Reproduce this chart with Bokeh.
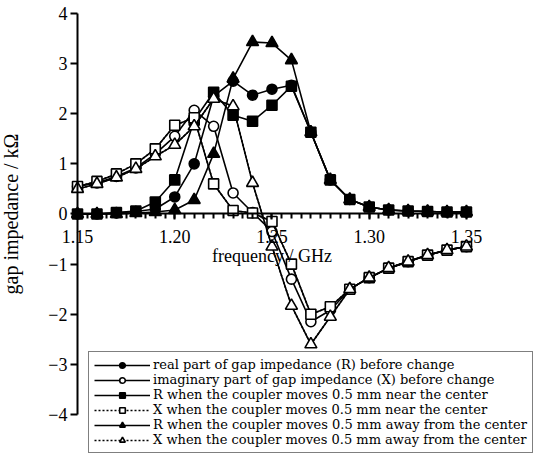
from bokeh.plotting import figure
from bokeh.models import (ColumnDataSource, Legend, LegendItem, LinearAxis,
                          SingleIntervalTicker, FixedTicker, Range1d, PrintfTickFormatter)
from bokeh.embed import file_html
from bokeh.resources import INLINE

# ---------------- data ----------------
freq = [1.15, 1.16, 1.17, 1.18, 1.19, 1.20, 1.21, 1.22, 1.23, 1.24, 1.25,
        1.26, 1.27, 1.28, 1.29, 1.30, 1.31, 1.32, 1.33, 1.34, 1.35]

r_before = [0.00, 0.00, 0.02, 0.05, 0.10, 0.34, 1.00, 2.35, 2.65, 2.37, 2.49,
            2.57, 1.63, 0.68, 0.29, 0.14, 0.08, 0.06, 0.05, 0.04, 0.04]
x_before = [0.55, 0.62, 0.75, 0.92, 1.20, 1.55, 2.07, 1.75, 0.42, 0.03, -0.35,
            -1.30, -2.15, -1.92, -1.50, -1.27, -1.08, -0.95, -0.82, -0.72, -0.65]
r_near = [0.00, 0.00, 0.03, 0.06, 0.24, 0.68, 1.87, 2.43, 1.97, 1.85, 2.17,
          2.55, 1.63, 0.68, 0.29, 0.14, 0.08, 0.06, 0.05, 0.04, 0.04]
x_near = [0.55, 0.65, 0.80, 1.00, 1.30, 1.77, 1.92, 0.60, 0.07, 0.02, -0.15,
          -1.00, -2.00, -1.85, -1.50, -1.27, -1.08, -0.95, -0.82, -0.72, -0.65]
r_away = [0.00, 0.00, 0.00, 0.02, 0.04, 0.08, 0.28, 1.20, 2.70, 3.43, 3.41,
          3.07, 1.63, 0.68, 0.29, 0.14, 0.08, 0.06, 0.05, 0.04, 0.04]
x_away = [0.50, 0.60, 0.73, 0.90, 1.15, 1.38, 1.75, 2.30, 2.15, 0.62, -0.65,
          -1.83, -2.60, -2.05, -1.50, -1.27, -1.08, -0.95, -0.82, -0.72, -0.65]

x_ticks_major = 0.05
y_ticks = [-4, -3, -2, -1, 0, 1, 2, 3, 4]

labels = [
    "real part of gap impedance (R) before change",
    "imaginary part of gap impedance (X) before change",
    "R when the coupler moves 0.5 mm near the center",
    "X when the coupler moves 0.5 mm near the center",
    "R when the coupler moves 0.5 mm away from the center",
    "X when the coupler moves 0.5 mm away from the center",
]

# ---------------- figure ----------------
W, H = 549, 456
SERIF = "Liberation Serif"

p = figure(width=W, height=H, output_backend="svg", toolbar_location=None,
           x_range=Range1d(1.1104, 1.3927), y_range=Range1d(-4.838, 4.2594),
           x_axis_location=None, y_axis_location=None,
           min_border_left=0, min_border_right=0, min_border_top=0, min_border_bottom=0)
p.outline_line_color = None
p.grid.visible = False
p.background_fill_color = "white"

xaxis = LinearAxis(fixed_location=0, bounds=(1.15, 1.35),
                   ticker=SingleIntervalTicker(interval=x_ticks_major, num_minor_ticks=10),
                   formatter=PrintfTickFormatter(format="%.2f"),
                   axis_label="frequency / GHz")
yaxis = LinearAxis(fixed_location=1.15, bounds=(-4, 4),
                   ticker=FixedTicker(ticks=y_ticks, minor_ticks=[]),
                   axis_label="gap impedance / kΩ")
for ax in (xaxis, yaxis):
    ax.axis_line_color = "black"
    ax.axis_line_width = 2
    ax.major_tick_line_color = "black"
    ax.major_tick_line_width = 2
    ax.minor_tick_line_color = "black"
    ax.minor_tick_line_width = 2
    ax.major_tick_in = 0
    ax.minor_tick_in = 0
    ax.major_label_text_font = SERIF
    ax.major_label_text_font_size = "18px"
    ax.major_label_text_color = "black"
    ax.axis_label_text_font = SERIF
    ax.axis_label_text_font_style = "normal"
    ax.axis_label_text_color = "black"

xaxis.major_tick_out = 6
xaxis.minor_tick_out = 5
xaxis.major_label_standoff = 10
xaxis.axis_label_text_font_size = "18px"
xaxis.axis_label_standoff = 0
p.add_layout(xaxis, "below")

yaxis.major_tick_out = 7
yaxis.major_label_standoff = 3
yaxis.axis_label_text_font_size = "20px"
yaxis.axis_label_standoff = 23
p.add_layout(yaxis, "left")

series = [
    (r_before, "circle", "black", None, 10),
    (x_before, "circle", "white", None, 10),
    (r_near, "square", "black", None, 10),
    (x_near, "square", "white", "2 2", 10),
    (r_away, "triangle", "black", None, 12),
    (x_away, "triangle", "white", "2 2", 12),
]

items = []
for (vals, marker, fill, dash, size), lab in zip(series, labels):
    src = ColumnDataSource(dict(x=freq, y=vals))
    if dash is None:
        ln = p.line("x", "y", source=src, line_color="black", line_width=1.6)
    else:
        # dashed line (used for the legend sample), covered on the plot by a solid line
        ln = p.line("x", "y", source=src, line_color="black", line_width=1.6, line_dash=dash)
        p.line("x", "y", source=src, line_color="black", line_width=1.6)
    sc = p.scatter("x", "y", source=src, marker=marker, size=size,
                   fill_color=fill, line_color="black", line_width=1.6)
    items.append(LegendItem(label=lab, renderers=[ln, sc]))

legend = Legend(items=items, location=(88, 3))
legend.label_text_font = "DejaVu Serif"
legend.label_text_font_size = "13px"
legend.label_text_color = "black"
legend.glyph_width = 56
legend.glyph_height = 14
legend.label_height = 14
legend.spacing = 0
legend.padding = 5
legend.margin = 0
legend.label_standoff = 3
legend.border_line_color = "black"
legend.border_line_width = 1.5
legend.background_fill_color = "white"
legend.background_fill_alpha = 1.0
p.add_layout(legend)

open("out.html", "w").write(file_html(p, INLINE))
